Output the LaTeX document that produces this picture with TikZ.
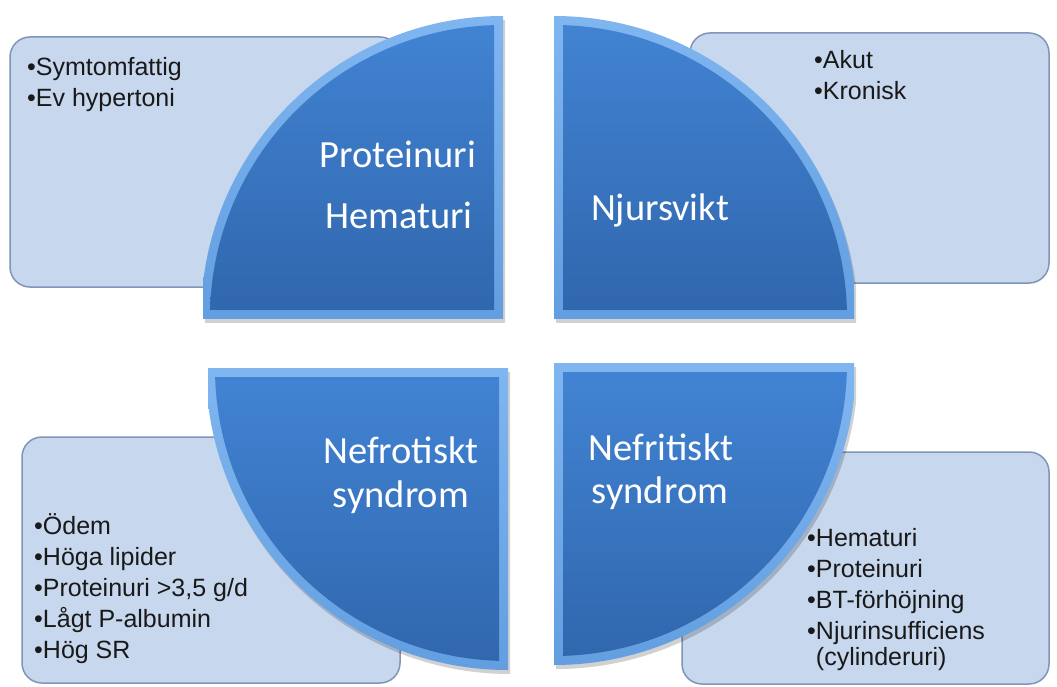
\documentclass[tikz,border=0pt]{standalone}
\usepackage{fontspec}
\setmainfont{Liberation Sans}
\newfontfamily\calib{Carlito}
\definecolor{boxfill}{RGB}{199,215,237}
\definecolor{boxline}{RGB}{128,150,184}
\definecolor{bevtop}{RGB}{128,182,240}
\definecolor{bevbot}{RGB}{98,158,224}
\definecolor{qtop}{RGB}{66,132,212}
\definecolor{qbot}{RGB}{48,102,172}
\tikzset{
  infobox/.style={rounded corners=20pt, fill=boxfill, draw=boxline, line width=1.5pt},
  qlabel/.style={text=white, font=\calib\fontsize{38.5}{42}\selectfont, anchor=base, inner sep=0pt},
  blist/.style={font=\fontsize{25}{31}\selectfont, align=left, anchor=base west, inner sep=0pt, text=black!90}
}
% #1 cx, #2 cy, #3 sx, #4 sy
\newcommand\quarterdisk[4]{%
  \begin{scope}[shift={(2,4)}]
    \clip (#1,#2) rectangle ++(#3*300,#4*305);
    \fill[black, opacity=0.18] (#1,#2) circle (302);
  \end{scope}
  \begin{scope}
    \clip (#1,#2) rectangle ++(#3*300,#4*305);
    \clip (#1,#2) circle (302);
    \shade[top color=bevtop, bottom color=bevbot] (#1,#2) rectangle ++(#3*305,#4*305);
  \end{scope}
  \begin{scope}
    \clip (#1+#3*9,#2+#4*9) rectangle ++(#3*300,#4*305);
    \clip (#1,#2) circle (293);
    \shade[top color=qtop, bottom color=qbot] (#1,#2) rectangle ++(#3*305,#4*305);
  \end{scope}
}
\begin{document}
\begin{tikzpicture}[x=1pt,y=-1pt]
\useasboundingbox (0,0) rectangle (1057,687);
\fill[white] (0,0) rectangle (1057,687);

% info boxes
\draw[infobox] (10,37) rectangle (400,287);
\draw[infobox] (690,33) rectangle (1049,283);
\draw[infobox] (22,437) rectangle (400,683);
\draw[infobox] (682,452) rectangle (1049,684);

% quarter disks
\quarterdisk{503}{318}{-1}{-1}
\quarterdisk{554}{318}{1}{-1}
\quarterdisk{508}{368}{-1}{1}
\quarterdisk{554}{363}{1}{1}

% labels
\node[qlabel] (q1a) at (398,168) {Proteinuri};
\node[qlabel] (q1b) at (399,228) {Hematuri};
\node[qlabel] (q2) at (660,220) {Njursvikt};
\node[qlabel] (q3a) at (401,463) {Nefrotiskt};
\node[qlabel] (q3b) at (401,507) {syndrom};
\node[qlabel] (q4a) at (661,460) {Nefritiskt};
\node[qlabel] (q4b) at (660,503) {syndrom};

% bullet lists (anchor = baseline of last line)
\node[blist] (b1) at (27,107) {•Symtomfattig\\•Ev hypertoni};
\node[blist] (b2) at (814,100) {•Akut\\•Kronisk};
\node[blist] (b3) at (34,658) {•Ödem\\•Höga lipider\\•Proteinuri >3,5 g/d\\•Lågt P-albumin\\•Hög SR};
\node[blist] (b4) at (807,665) {•Hematuri\\•Proteinuri\\•BT-förhöjning\\•Njurinsufficiens\\[-5pt]\hspace*{0.35em}(cylinderuri)};
\end{tikzpicture}
\end{document}
